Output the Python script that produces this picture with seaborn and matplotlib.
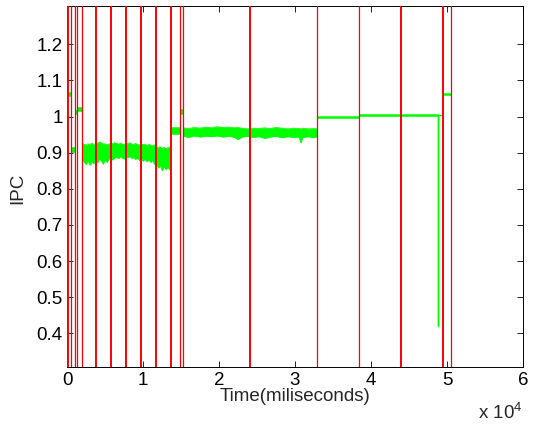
import numpy as np
import pandas as pd
import matplotlib
matplotlib.use("Agg")
import matplotlib.pyplot as plt
import seaborn as sns
from matplotlib.ticker import FuncFormatter

# ---------------- data ----------------
# phase boundaries (ms) drawn as red vertical lines
thick_boundaries = [0, 150, 3860, 5790, 7760, 9740, 11690, 13650,
                    24050, 43920, 49450]
thin_boundaries = [530, 1050, 1320, 1970, 14870, 15300, 32930, 38420, 50490]

# short flat phases: start, end, low, high IPC
flat_start = [150, 530, 1050, 1320, 13650, 14870, 32930, 38420, 49450]
flat_end = [530, 1050, 1320, 1970, 14870, 15300, 38420, 48870, 50490]
flat_lo = [1.058, 0.903, 1.008, 1.016, 0.953, 1.008, 0.997, 1.001, 1.059]
flat_hi = [1.068, 0.915, 1.018, 1.026, 0.970, 1.020, 1.002, 1.006, 1.066]

# noisy phase 1 envelope
band1_t = [1970, 2250, 2500, 2750, 3000, 3250, 3500, 3750, 4000, 4250, 4500,
           4750, 5000, 5250, 5500, 5750, 6000, 6250, 6500, 6750, 7000, 7250,
           7500, 7750, 8000, 8250, 8500, 8750, 9000, 9250, 9500, 9750, 10000,
           10250, 10500, 10750, 11000, 11250, 11500, 11750, 12000, 12250,
           12500, 12750, 13000, 13250, 13500, 13640]
band1_hi = [0.926, 0.924, 0.920, 0.925, 0.922, 0.927, 0.921, 0.924, 0.926,
            0.930, 0.928, 0.923, 0.925, 0.921, 0.924, 0.927, 0.925, 0.928,
            0.926, 0.923, 0.927, 0.924, 0.922, 0.926, 0.925, 0.928, 0.924,
            0.922, 0.926, 0.923, 0.921, 0.925, 0.922, 0.924, 0.920, 0.923,
            0.921, 0.919, 0.922, 0.916, 0.914, 0.917, 0.912, 0.915, 0.911,
            0.914, 0.916, 0.915]
band1_lo = [0.882, 0.874, 0.868, 0.879, 0.866, 0.876, 0.870, 0.880, 0.872,
            0.884, 0.878, 0.869, 0.881, 0.874, 0.883, 0.887, 0.880, 0.886,
            0.889, 0.884, 0.890, 0.886, 0.883, 0.889, 0.887, 0.891, 0.885,
            0.888, 0.882, 0.886, 0.879, 0.884, 0.877, 0.883, 0.876, 0.881,
            0.874, 0.879, 0.868, 0.872, 0.858, 0.866, 0.851, 0.862, 0.854,
            0.861, 0.853, 0.858]

# noisy phase 2 envelope
band2_t = [15300, 16000, 16750, 17500, 18250, 19000, 19750, 20500, 21250,
           22000, 22500, 23000, 23750, 24500, 25250, 26000, 26750, 27500,
           28250, 29000, 29750, 30500, 30750, 31000, 31750, 32500, 32930]
band2_hi = [0.969, 0.967, 0.970, 0.968, 0.971, 0.969, 0.972, 0.970, 0.971,
            0.969, 0.970, 0.968, 0.966, 0.968, 0.967, 0.969, 0.967, 0.970,
            0.968, 0.966, 0.968, 0.967, 0.966, 0.968, 0.966, 0.967, 0.966]
band2_lo = [0.946, 0.943, 0.947, 0.944, 0.946, 0.945, 0.947, 0.944, 0.946,
            0.943, 0.937, 0.944, 0.946, 0.943, 0.945, 0.940, 0.944, 0.946,
            0.942, 0.945, 0.943, 0.944, 0.928, 0.943, 0.945, 0.942, 0.945]

# sharp dip near the end of the long 1.0 phase
dip_t = [48870, 48870, 48870, 49450]
dip_ipc = [1.003, 0.419, 1.003, 1.003]

x_ticks = [0, 10000, 20000, 30000, 40000, 50000, 60000]
y_ticks = [0.4, 0.5, 0.6, 0.7, 0.8, 0.9, 1.0, 1.1, 1.2]

# ---------------- style ----------------
sns.set_style("ticks")
plt.rcParams["font.family"] = ["Liberation Sans", "DejaVu Sans"]
plt.rcParams["mathtext.default"] = "regular"
FS = 13.5
GREEN = (0.0, 1.0, 0.0)
RED = (1.0, 0.0, 0.0)

fig = plt.figure(figsize=(5.34, 4.24), dpi=100)
ax = fig.add_axes([0.1255, 0.1351, 0.8539, 0.8507])

# flat phases
for s, e, lo, hi in zip(flat_start, flat_end, flat_lo, flat_hi):
    ax.fill_between([s, e], [lo, lo], [hi, hi], color=GREEN, lw=0.4,
                    edgecolor=GREEN)

# noisy phases
for t, lo, hi in [(band1_t, band1_lo, band1_hi), (band2_t, band2_lo, band2_hi)]:
    ax.fill_between(t, lo, hi, color=GREEN, lw=0.4, edgecolor=GREEN)
    df = pd.DataFrame({"t": t + t, "ipc": lo + hi,
                       "edge": ["lo"] * len(t) + ["hi"] * len(t)})
    sns.lineplot(data=df, x="t", y="ipc", units="edge", estimator=None,
                 color=GREEN, lw=0.5, ax=ax)

# dip
df_dip = pd.DataFrame({"t": dip_t, "ipc": dip_ipc})
sns.lineplot(data=df_dip, x="t", y="ipc", sort=False, estimator=None,
             color=GREEN, lw=1.0, ax=ax)

# phase boundaries
for b in thick_boundaries:
    ax.axvline(b, color=RED, lw=1.4, zorder=5)
for b in thin_boundaries:
    ax.axvline(b, color=RED, lw=0.9, zorder=5)

# axes
ax.set_xlim(0, 60000)
ax.set_ylim(0.3075, 1.306)
ax.set_xticks(x_ticks)
ax.set_yticks(y_ticks)
ax.xaxis.set_major_formatter(FuncFormatter(lambda v, p: f"{v / 1e4:g}"))
ax.yaxis.set_major_formatter(FuncFormatter(lambda v, p: f"{v:g}"))
ax.tick_params(direction="in", top=True, right=True, length=4, width=0.6,
               labelsize=FS, colors="black")
ax.tick_params(axis="x", pad=3.5)
ax.tick_params(axis="y", pad=3)
for sp in ax.spines.values():
    sp.set_visible(True)
    sp.set_color("black")
    sp.set_linewidth(0.7)

ax.set_xlabel("Time(miliseconds)", fontsize=FS)
ax.xaxis.set_label_coords(0.5, -0.060)
ax.set_ylabel("IPC", fontsize=FS)
ax.yaxis.set_label_coords(-0.089, 0.495)
ax.text(0.998, -0.145, r"x 10$^4$", transform=ax.transAxes, ha="right",
        va="baseline", fontsize=FS)

fig.savefig("out.png", dpi=100)
